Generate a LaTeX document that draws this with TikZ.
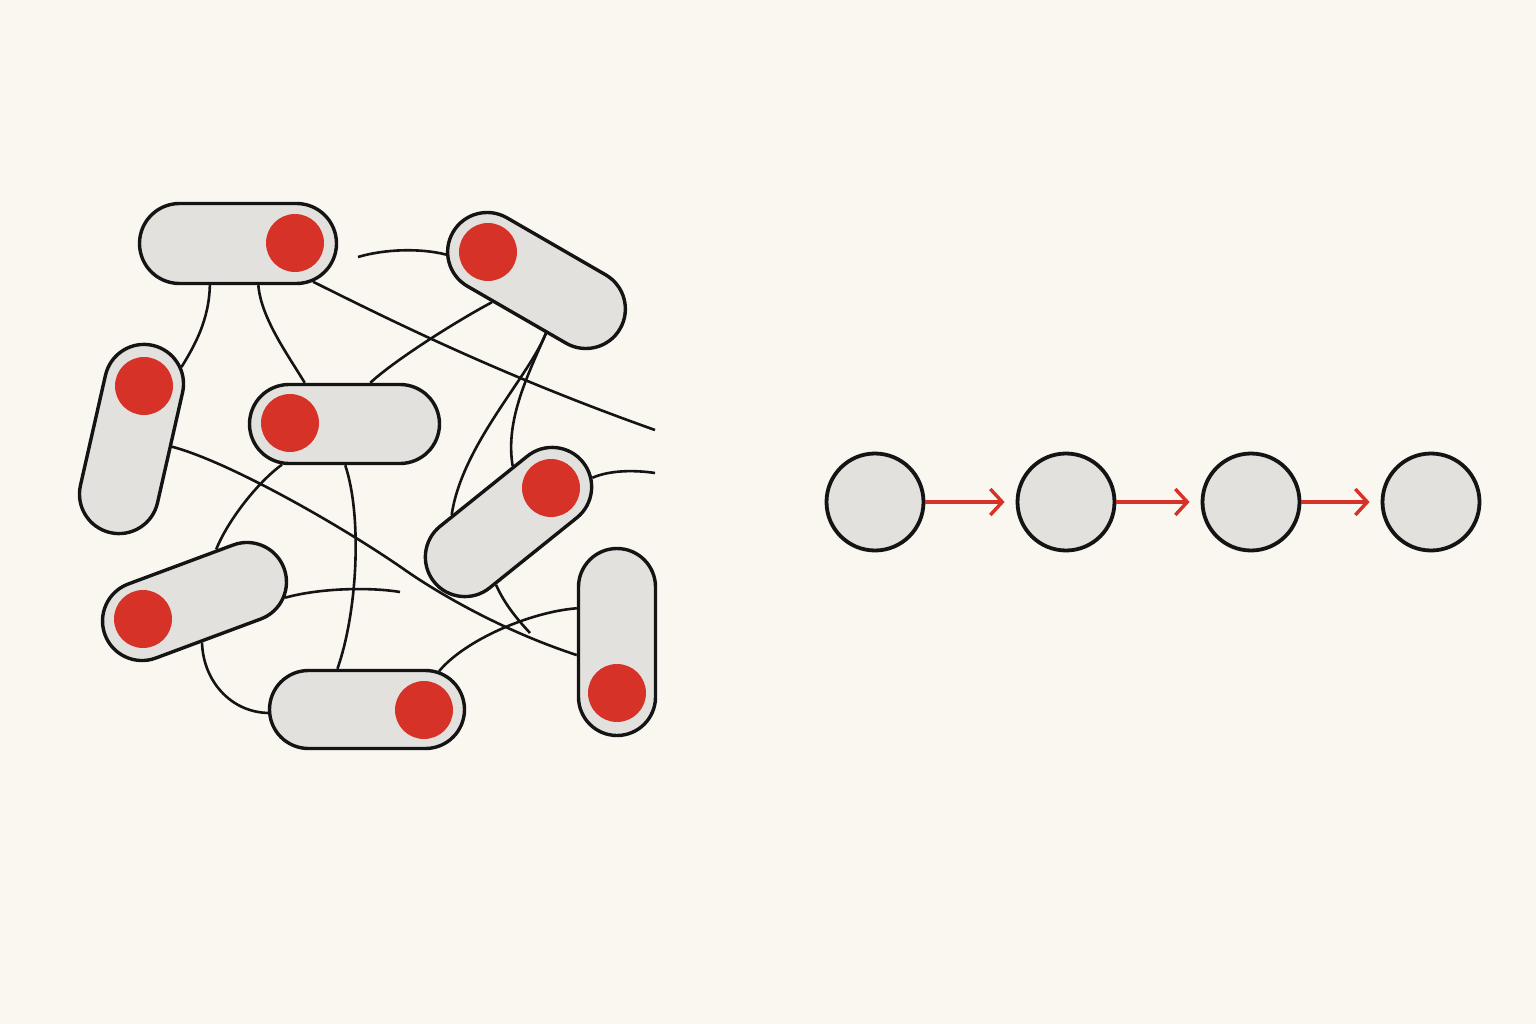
\documentclass[tikz,border=0pt]{standalone}
\usetikzlibrary{shapes.misc,arrows.meta}
\definecolor{bgc}{RGB}{250,246,240}
\definecolor{pillc}{RGB}{226,225,222}
\definecolor{dotc}{RGB}{214,50,40}
\definecolor{inkc}{RGB}{20,20,20}
\pgfdeclarelayer{back}
\pgfdeclarelayer{lines}
\pgfsetlayers{back,lines,main}
\begin{document}
\begin{tikzpicture}[x=1pt,y=-1pt,
  pill/.style={rounded rectangle, draw=inkc, line width=3.4pt, fill=pillc, inner sep=0pt, minimum height=79pt},
  dot/.style={circle, fill=dotc, inner sep=0pt, minimum size=58pt},
  wire/.style={draw=inkc, line width=2.6pt},
  ball/.style={circle, draw=inkc, line width=3.8pt, fill=pillc, minimum size=97pt, inner sep=0pt},
  arr/.style={draw=dotc, line width=3.4pt, -{Straight Barb[length=12pt,width=26pt]}, shorten >=11pt}]
\begin{pgfonlayer}{back}
\fill[bgc] (0,0) rectangle (1536,1024);
\end{pgfonlayer}
\useasboundingbox (0,0) rectangle (1536,1024);
% pills
\node[pill, minimum width=197pt, minimum height=80pt] (p1) at (238,243.5) {};
\node[pill, minimum width=193pt, rotate=-30] (p2) at (536.5,280.5) {};
\node[pill, minimum width=192pt, rotate=77.2] (p3) at (131.5,439) {};
\node[pill, minimum width=190pt] (p4) at (344.5,424) {};
\node[pill, minimum width=191pt, rotate=38.8] (p5) at (508.5,522) {};
\node[pill, minimum width=191pt, rotate=20.4] (p6) at (194.5,601.5) {};
\node[pill, minimum width=195pt, minimum height=78pt] (p7) at (367,709.5) {};
\node[pill, minimum width=187pt, minimum height=77pt, rotate=90] (p8) at (617,642) {};
% dots
\node[dot] (d1) at (295,243) {};
\node[dot] (d2) at (488,252) {};
\node[dot] (d3) at (144,386) {};
\node[dot] (d4) at (290,423) {};
\node[dot] (d5) at (551,488) {};
\node[dot] (d6) at (143,619) {};
\node[dot] (d7) at (424,710) {};
\node[dot] (d8) at (617,693) {};
% free ends
\coordinate (e3) at (655,430);
\coordinate (e5) at (358,257);
\coordinate (e10) at (400,592);
\coordinate (e13) at (530,633);
\coordinate (e14) at (655,473);
\begin{pgfonlayer}{lines}
\draw[wire] (p1.-124) .. controls (209,320) and (195,345) .. (p3.-22);
\draw[wire] (p1.-64) .. controls (261,318) and (288,355) .. (p4.134);
\draw[wire] (p1.-27) .. controls (390,320) and (500,375) .. (e3);
\draw[wire] (p2.-124) .. controls (455,322) and (395,360) .. (p4.58);
\draw[wire] (e5) .. controls (385,249) and (420,248) .. (p2.194);
\draw[wire] (p2.-50) .. controls (528,378) and (462,445) .. (p5.134);
\draw[wire] (p2.-50) .. controls (528,375) and (505,420) .. (p5.47);
\draw[wire] (p3.-88) .. controls (230,462) and (345,528) .. (405,570) .. controls (435,591) and (500,630) .. (p8.108);
\draw[wire] (p4.-147) .. controls (258,482) and (228,520) .. (p6.47);
\draw[wire] (p4.-89) .. controls (362,515) and (358,610) .. (p7.126);
\draw[wire] (p6.-18) .. controls (320,588) and (370,587) .. (e10);
\draw[wire] (p6.-100) .. controls (203,680) and (230,712) .. (p7.-178);
\draw[wire] (p7.28) .. controls (465,640) and (530,612) .. (p8.50);
\draw[wire] (p5.-140) .. controls (505,605) and (518,620) .. (e13);
\draw[wire] (p5.-11) .. controls (610,470) and (635,470) .. (e14);
\end{pgfonlayer}
% chain
\node[ball] (c1) at (875,502) {};
\node[ball] (c2) at (1066,502) {};
\node[ball] (c3) at (1251,502) {};
\node[ball] (c4) at (1431,502) {};
\draw[arr] (c1) -- (c2);
\draw[arr] (c2) -- (c3);
\draw[arr] (c3) -- (c4);
\end{tikzpicture}
\end{document}
